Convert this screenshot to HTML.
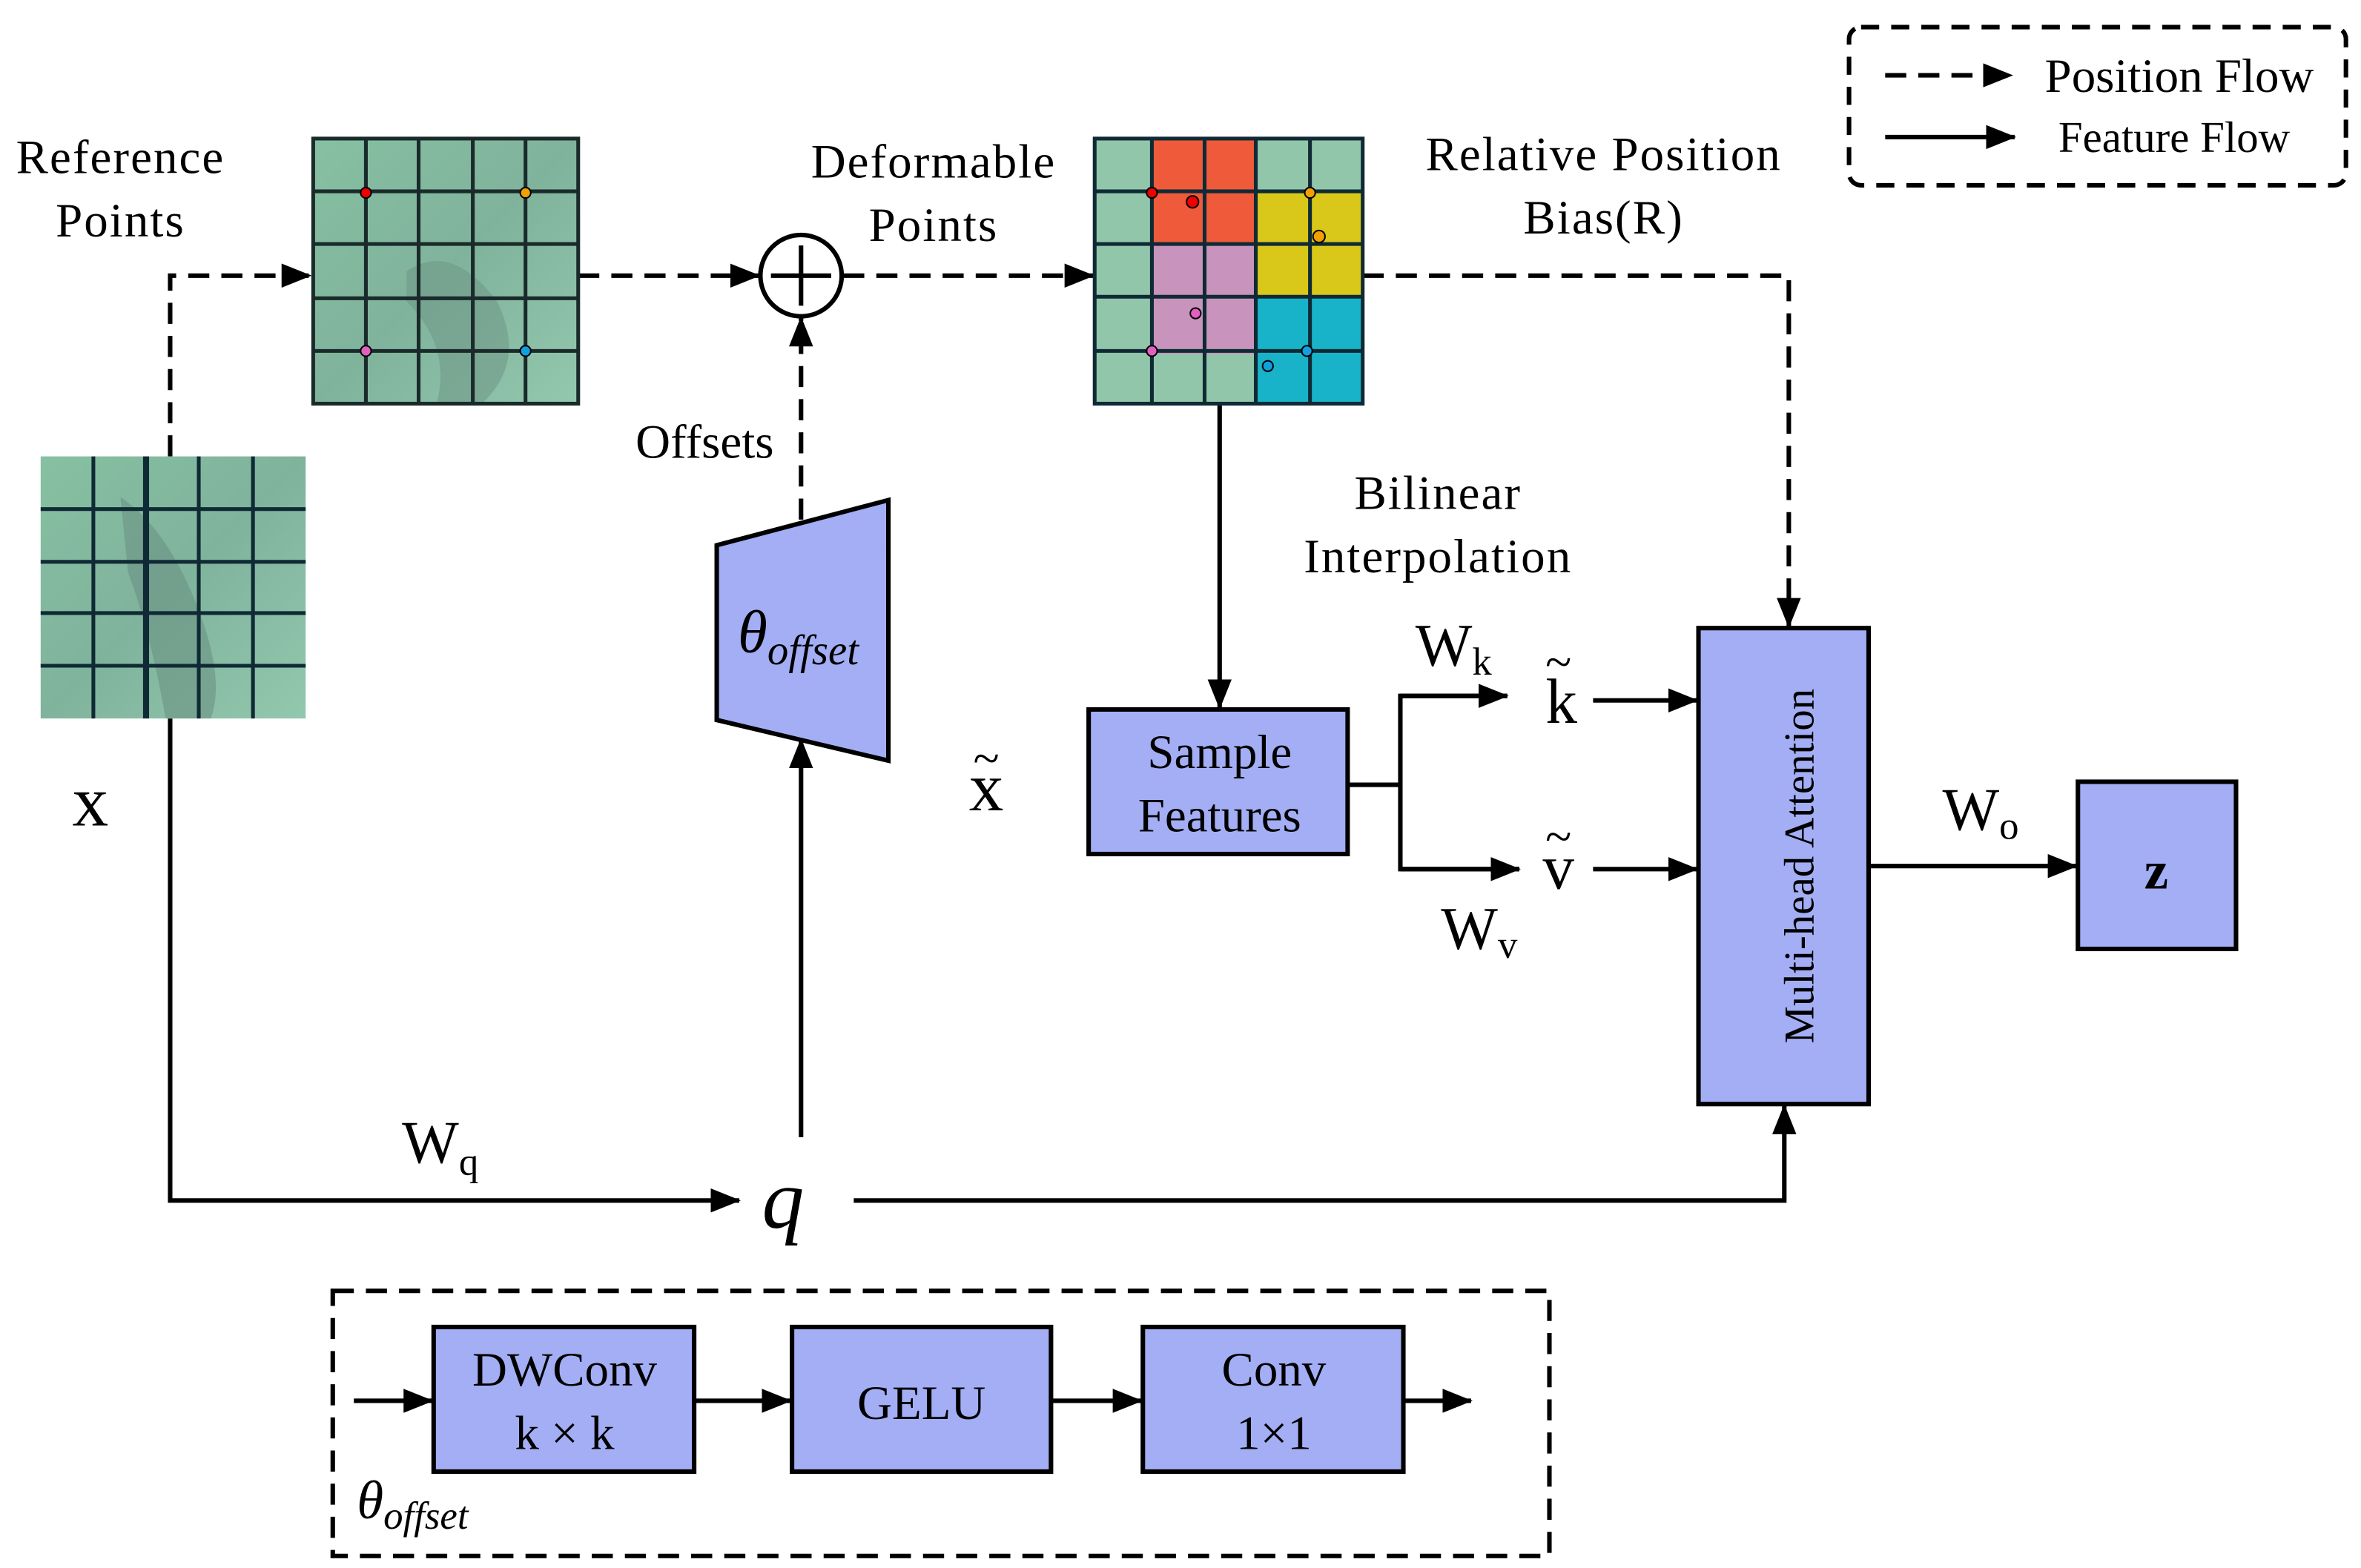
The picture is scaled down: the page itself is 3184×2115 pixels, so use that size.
<!DOCTYPE html>
<html><head><meta charset="utf-8"><style>
html,body{margin:0;padding:0;background:#fff;}
svg{display:block;}
text{font-family:"Liberation Serif",serif;fill:#000;}
</style></head><body>
<svg width="3184" height="2115" viewBox="0 0 1568 1041" preserveAspectRatio="none" xmlns="http://www.w3.org/2000/svg">
<defs>
<marker id="a2" markerWidth="20" markerHeight="16" refX="19" refY="8" orient="auto" markerUnits="userSpaceOnUse"><path d="M0,0 L20,8 L0,16 z" fill="#000"/></marker>
<linearGradient id="dk" x1="0" y1="0" x2="1" y2="1">
<stop offset="0" stop-color="#86c0a2"/><stop offset="0.5" stop-color="#80b39c"/><stop offset="1" stop-color="#92c8ae"/></linearGradient>
</defs>
<g stroke="#000" stroke-width="3" fill="none">
<rect x="1228" y="18" width="330" height="105" rx="8" stroke-dasharray="12,8"/>
<line x1="1252" y1="50" x2="1336" y2="50" stroke-dasharray="14,8" marker-end="url(#a2)"/>
<line x1="1252" y1="91" x2="1338" y2="91" marker-end="url(#a2)"/>
<polyline points="113,303 113,183 206,183" stroke-dasharray="14,8" marker-end="url(#a2)"/>
<line x1="384" y1="183" x2="504" y2="183" stroke-dasharray="14,8" marker-end="url(#a2)"/>
<line x1="560" y1="183" x2="726" y2="183" stroke-dasharray="14,8" marker-end="url(#a2)"/>
<line x1="532" y1="345" x2="532" y2="211" stroke-dasharray="14,8" marker-end="url(#a2)"/>
<polyline points="905,183 1188,183 1188,416" stroke-dasharray="14,8" marker-end="url(#a2)"/>
<polyline points="113,477 113,797 491,797" marker-end="url(#a2)"/>
<line x1="532" y1="755" x2="532" y2="491" marker-end="url(#a2)"/>
<polyline points="567,797 1185,797 1185,734" marker-end="url(#a2)"/>
<line x1="810" y1="268" x2="810" y2="470" marker-end="url(#a2)"/>
<polyline points="895,521 930,521"/>
<polyline points="1001,462 930,462 930,577 1009,577" />
<line x1="930" y1="462" x2="1001" y2="462" marker-end="url(#a2)"/>
<line x1="930" y1="577" x2="1009" y2="577" marker-end="url(#a2)"/>
<line x1="1058" y1="465" x2="1127" y2="465" marker-end="url(#a2)"/>
<line x1="1058" y1="577" x2="1127" y2="577" marker-end="url(#a2)"/>
<line x1="1241" y1="575" x2="1379" y2="575" marker-end="url(#a2)"/>
<circle cx="532" cy="183" r="27" fill="#fff"/>
<line x1="512" y1="183" x2="552" y2="183"/><line x1="532" y1="163" x2="532" y2="203"/>
<rect x="221" y="857" width="808" height="176" stroke-dasharray="14,8"/>
<line x1="235" y1="930" x2="287" y2="930" marker-end="url(#a2)"/>
<line x1="461" y1="930" x2="525" y2="930" marker-end="url(#a2)"/>
<line x1="698" y1="930" x2="758" y2="930" marker-end="url(#a2)"/>
<line x1="932" y1="930" x2="977" y2="930" marker-end="url(#a2)"/>
</g>
<g fill="#a3aef4" stroke="#000" stroke-width="3">
<polygon points="476,362 590,332 590,505 476,478"/>
<rect x="723" y="471" width="172" height="96"/>
<rect x="1128" y="417" width="113" height="316"/>
<rect x="1380" y="519" width="105" height="111"/>
<rect x="288" y="881" width="173" height="96"/>
<rect x="526" y="881" width="172" height="96"/>
<rect x="759" y="881" width="173" height="96"/>
</g>
<g>
<rect x="208" y="92" width="176" height="176" fill="url(#dk)"/>
<path d="M270,180 Q300,160 330,200 Q350,240 320,268 L290,268 Q300,230 270,200z" fill="#6f9a88" opacity="0.6"/>
<g stroke="#1a2a2a" stroke-width="2.5" fill="none">
<rect x="208" y="92" width="176" height="176"/>
<line x1="243" y1="92" x2="243" y2="268"/><line x1="278" y1="92" x2="278" y2="268"/><line x1="314" y1="92" x2="314" y2="268"/><line x1="349" y1="92" x2="349" y2="268"/>
<line x1="208" y1="127" x2="384" y2="127"/><line x1="208" y1="162" x2="384" y2="162"/><line x1="208" y1="198" x2="384" y2="198"/><line x1="208" y1="233" x2="384" y2="233"/>
</g>
<circle cx="243" cy="128" r="3.5" fill="#e00" stroke="#000"/><circle cx="349" cy="128" r="3.5" fill="#f0a000" stroke="#000"/>
<circle cx="243" cy="233" r="3.5" fill="#e060c0" stroke="#000"/><circle cx="349" cy="233" r="3.5" fill="#10a0e0" stroke="#000"/>

<rect x="27" y="303" width="176" height="174" fill="url(#dk)"/>
<path d="M80,330 Q110,350 130,400 Q150,450 140,477 L110,477 Q100,420 85,380z" fill="#6a9384" opacity="0.6"/>
<g stroke="#0f2a35" stroke-width="2.5" fill="none">
<line x1="62" y1="303" x2="62" y2="477"/><line x1="97" y1="303" x2="97" y2="477" stroke-width="4"/><line x1="132" y1="303" x2="132" y2="477"/><line x1="168" y1="303" x2="168" y2="477"/>
<line x1="27" y1="338" x2="203" y2="338"/><line x1="27" y1="373" x2="203" y2="373"/><line x1="27" y1="407" x2="203" y2="407"/><line x1="27" y1="442" x2="203" y2="442"/>
</g>

<rect x="727" y="92" width="178" height="176" fill="#92c6aa"/>
<rect x="765" y="92" width="69" height="70" fill="#ef5a3a"/>
<rect x="834" y="127" width="71" height="70" fill="#d9c81a"/>
<rect x="765" y="162" width="69" height="73" fill="#c893bc"/>
<rect x="834" y="197" width="71" height="71" fill="#18b3c8"/>
<g stroke="#0f2a35" stroke-width="2.5" fill="none">
<rect x="727" y="92" width="178" height="176"/>
<line x1="765" y1="92" x2="765" y2="268"/><line x1="800" y1="92" x2="800" y2="268"/><line x1="834" y1="92" x2="834" y2="268"/><line x1="870" y1="92" x2="870" y2="268"/>
<line x1="727" y1="127" x2="905" y2="127"/><line x1="727" y1="162" x2="905" y2="162"/><line x1="727" y1="197" x2="905" y2="197"/><line x1="727" y1="233" x2="905" y2="233"/>
</g>
<circle cx="765" cy="128" r="3.5" fill="#e00" stroke="#000"/><circle cx="792" cy="134" r="4" fill="#e00" stroke="#000"/>
<circle cx="870" cy="128" r="3.5" fill="#f0a000" stroke="#000"/><circle cx="876" cy="157" r="4" fill="#f0a000" stroke="#000"/>
<circle cx="765" cy="233" r="3.5" fill="#e060c0" stroke="#000"/><circle cx="794" cy="208" r="3.5" fill="#e060c0" stroke="#000"/>
<circle cx="868" cy="233" r="3.5" fill="#10a0e0" stroke="#000"/><circle cx="842" cy="243" r="3.5" fill="#10a0e0" stroke="#000"/>
</g>
<g font-size="32">
<text x="1358" y="61">Position Flow</text>
<text x="1367" y="101" font-size="29">Feature Flow</text>
<text x="80" y="115" text-anchor="middle" letter-spacing="1">Reference</text>
<text x="80" y="157" text-anchor="middle" letter-spacing="1">Points</text>
<text x="620" y="118" text-anchor="middle" letter-spacing="1">Deformable</text>
<text x="620" y="160" text-anchor="middle" letter-spacing="1">Points</text>
<text x="1065" y="113" text-anchor="middle" letter-spacing="1">Relative Position</text>
<text x="1065" y="155" text-anchor="middle" letter-spacing="1">Bias(R)</text>
<text x="468" y="304" text-anchor="middle">Offsets</text>
<text x="955" y="338" text-anchor="middle" letter-spacing="1">Bilinear</text>
<text x="955" y="380" text-anchor="middle" letter-spacing="1">Interpolation</text>
<text x="810" y="510" text-anchor="middle">Sample</text>
<text x="810" y="552" text-anchor="middle">Features</text>
<text x="375" y="920" text-anchor="middle">DWConv</text>
<text x="375" y="962" text-anchor="middle">k × k</text>
<text x="612" y="942" text-anchor="middle">GELU</text>
<text x="846" y="920" text-anchor="middle">Conv</text>
<text x="846" y="962" text-anchor="middle">1×1</text>
<text x="1198" y="575" text-anchor="middle" font-size="28" transform="rotate(-90 1198 575)" dominant-baseline="middle">Multi-head Attention</text>
</g>
<text x="60" y="548" font-size="48" text-anchor="middle">x</text>
<text x="655" y="538" font-size="46" text-anchor="middle">x</text><text x="655" y="514" font-size="32" text-anchor="middle">~</text>
<text x="1037" y="480" font-size="42" text-anchor="middle">k</text><text x="1035" y="450" font-size="32" text-anchor="middle">~</text>
<text x="1035" y="590" font-size="42" text-anchor="middle">v</text><text x="1035" y="566" font-size="32" text-anchor="middle">~</text>
<text x="940" y="442" font-size="40">W<tspan font-size="26" dy="6">k</tspan></text>
<text x="957" y="630" font-size="40">W<tspan font-size="26" dy="6">v</tspan></text>
<text x="267" y="772" font-size="40">W<tspan font-size="26" dy="8">q</tspan></text>
<text x="1290" y="551" font-size="40">W<tspan font-size="26" dy="6">o</tspan></text>
<text x="520" y="815" font-size="56" font-style="italic" text-anchor="middle">q</text>
<text x="1432" y="590" font-size="36" font-weight="bold" text-anchor="middle">z</text>
<text x="490" y="433" font-size="40" font-style="italic">θ<tspan font-size="28" dy="8">offset</tspan></text>
<text x="237" y="1008" font-size="36" font-style="italic">θ<tspan font-size="26" dy="7">offset</tspan></text>
</svg>
</body></html>
